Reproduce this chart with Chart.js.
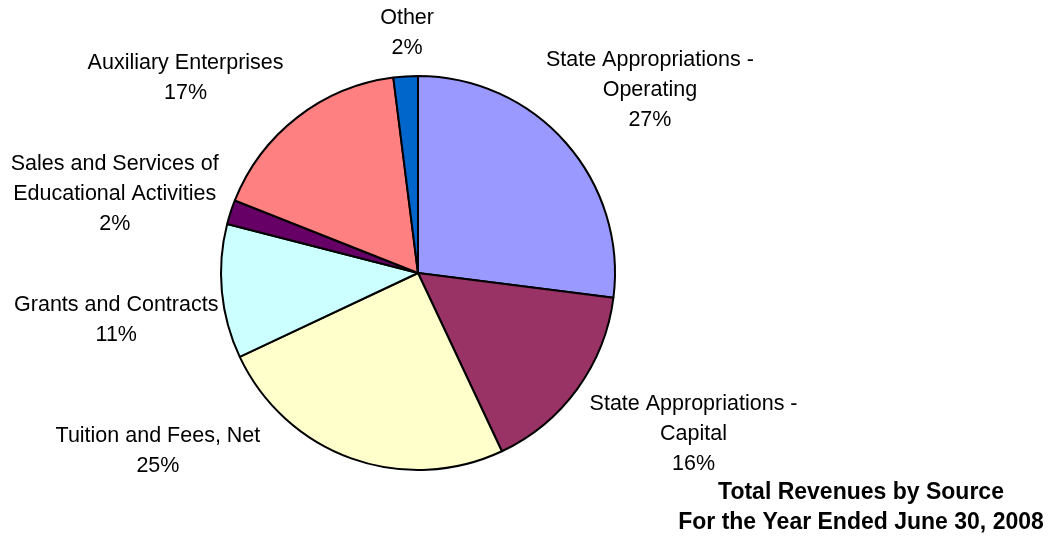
<!DOCTYPE html>
<html>
<head>
<meta charset="utf-8">
<script src="https://cdn.jsdelivr.net/npm/chart.js@4.4.1/dist/chart.umd.min.js"></script>
<style>
  html, body { margin: 0; padding: 0; background: #fff; }
  #wrap { width: 1052px; height: 538px; position: relative; }
</style>
</head>
<body>
<div id="wrap"><canvas id="revChart"></canvas></div>
<script>
// Revenue sources, clockwise from 12 o'clock
const categories = [
  ['State Appropriations -', 'Operating'],
  ['State Appropriations -', 'Capital'],
  ['Tuition and Fees, Net'],
  ['Grants and Contracts'],
  ['Sales and Services of', 'Educational Activities'],
  ['Auxiliary Enterprises'],
  ['Other']
];
const shares = [27, 16, 25, 11, 2, 17, 2];
const sliceColors = ['#9999FF', '#993366', '#FFFFCC', '#CCFFFF', '#660066', '#FF8080', '#0066CC'];
const titleLines = ['Total Revenues by Source', 'For the Year Ended June 30, 2008'];

// where each label sits: angle from top (deg, clockwise) and distance as multiple of radius
const labelAngle = [51.7, 120.3, 235.6, 261.2, 284.5, 310, 357.4];
const labelDist = [1.50, 1.62, 1.60, 1.55, 1.59, 1.54, 1.22];

const labelFont = '21.5px "Liberation Sans", Arial, sans-serif';
const titleFont = 'bold 23px "Liberation Sans", Arial, sans-serif';

const pieLabels = {
  id: 'pieLabels',
  afterDatasetsDraw(chart) {
    const ctx = chart.ctx;
    const arcs = chart.getDatasetMeta(0).data;
    ctx.save();
    ctx.font = labelFont;
    ctx.fillStyle = '#000';
    ctx.textAlign = 'center';
    ctx.textBaseline = 'middle';
    arcs.forEach((arc, i) => {
      const r = arc.outerRadius;
      const a = labelAngle[i] * Math.PI / 180;
      const cx = arc.x + Math.sin(a) * r * labelDist[i];
      const cy = arc.y - Math.cos(a) * r * labelDist[i];
      const lines = categories[i].concat([shares[i] + '%']);
      const lh = 30;
      const y0 = cy - (lines.length - 1) * lh / 2;
      lines.forEach((t, j) => ctx.fillText(t, cx, y0 + j * lh));
    });
    // title
    ctx.font = titleFont;
    ctx.fillText(titleLines[0], 861, 493);
    ctx.fillText(titleLines[1], 861, 523);
    ctx.restore();
  }
};

new Chart(document.getElementById('revChart').getContext('2d'), {
  type: 'pie',
  data: {
    labels: categories,
    datasets: [{
      data: shares,
      backgroundColor: sliceColors,
      borderColor: '#000',
      borderWidth: 2
    }]
  },
  options: {
    responsive: true,
    maintainAspectRatio: false,
    animation: false,
    layout: { padding: { top: 75, bottom: 67, left: 220, right: 436 } },
    plugins: {
      legend: { display: false },
      tooltip: { enabled: false }
    }
  },
  plugins: [pieLabels]
});
</script>
</body>
</html>
